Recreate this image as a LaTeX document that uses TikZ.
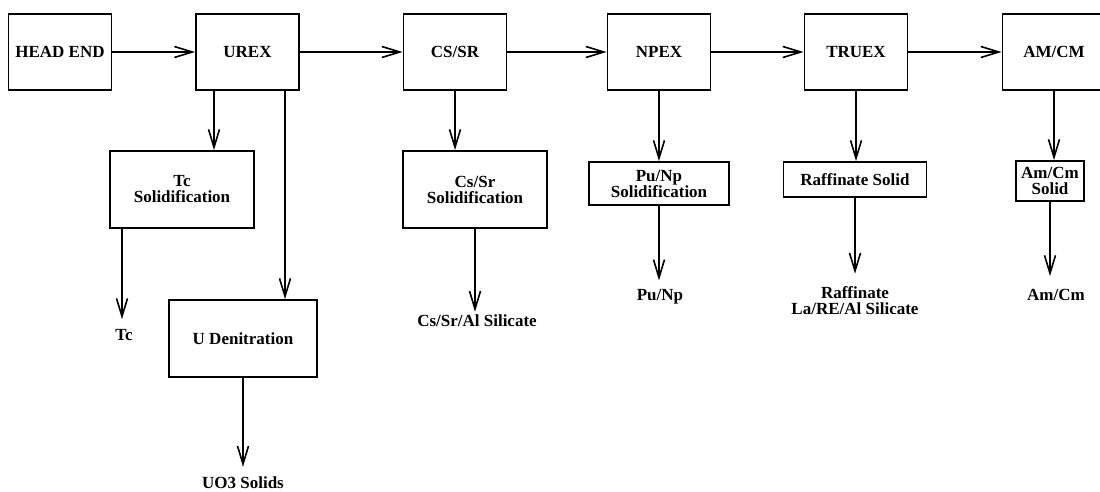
\documentclass[tikz,border=0pt]{standalone}
\usepackage{fontspec}
\setmainfont{Liberation Serif}
\usetikzlibrary{arrows.meta}
\tikzset{
  >={Straight Barb[length=18pt,width=11pt]},
  stage/.style={draw,line width=1.8pt,minimum width=103pt,minimum height=76pt,
    inner sep=3pt,align=center,font=\bfseries\fontsize{17}{16}\selectfont},
  treat/.style 2 args={stage,minimum width=#1,minimum height=#2},
  product/.style={inner sep=1pt,align=center,font=\bfseries\fontsize{17}{16}\selectfont},
  flow/.style={->,line width=1.6pt},
}

\begin{document}
\begin{tikzpicture}[x=1pt,y=-1pt]
  \useasboundingbox (0,0) rectangle (1100,492);
  % main line
  \node[stage] (head) at (60,52) {HEAD END};
  \node[stage] (urex) at (247.5,52) {UREX};
  \node[stage] (cssr) at (455,52) {CS/SR};
  \node[stage] (npex) at (659,52) {NPEX};
  \node[stage] (truex) at (856,52) {TRUEX};
  \node[stage] (amcm) at (1054,52) {AM/CM};
  \foreach \a/\b in {head/urex,urex/cssr,cssr/npex,npex/truex,truex/amcm}
    \draw[flow] (\a) -- (\b);
  % solidification steps
  \node[treat={144pt}{77pt}] (tcsol) at (182,189.5) {Tc\\Solidification};
  \node[treat={144pt}{77pt}] (cssol) at (475,189.5) {Cs/Sr\\Solidification};
  \node[treat={140pt}{43pt}] (pusol) at (659,183.5) {Pu/Np\\Solidification};
  \node[treat={143pt}{35pt}] (rafsol) at (855,179.5) {Raffinate Solid};
  \node[treat={68pt}{40pt}] (amsol) at (1050,181) {Am/Cm\\Solid};
  \node[treat={148pt}{77pt}] (uden) at (243,338.5) {U Denitration};
  % products
  \node[product] (tc) at (124,335) {Tc};
  \node[product] (csglass) at (477,321) {Cs/Sr/Al Silicate};
  \node[product] (pu) at (660,297) {Pu/Np};
  \node[product] (raf) at (855,301) {Raffinate\\La/RE/Al Silicate};
  \node[product] (am) at (1056,295) {Am/Cm};
  \node[product] (uo3) at (243,483) {UO3 Solids};
  \coordinate (tcin) at ([xshift=-33.5pt]urex.south);
  \coordinate (udin) at ([xshift=37.5pt]urex.south);
  \coordinate (tcout) at ([xshift=-60pt]tcsol.south);
  \draw[flow] (tcin) -- (tcin |- tcsol.north);
  \draw[flow] (udin) -- (udin |- uden.north);
  \foreach \a/\b in {cssr/cssol,npex/pusol,truex/rafsol,amcm/amsol}
    \draw[flow] (\a.south) -- (\a.south |- \b.north);
  \draw[flow,shorten >=9pt] (tcout) -- (tcout |- tc.north);
  \foreach \a/\b/\s in {cssol/csglass/2,pusol/pu/8,rafsol/raf/12,amsol/am/12,uden/uo3/9}
    \draw[flow,shorten >=\s pt] (\a.south) -- (\a.south |- \b.north);
\end{tikzpicture}
\end{document}
